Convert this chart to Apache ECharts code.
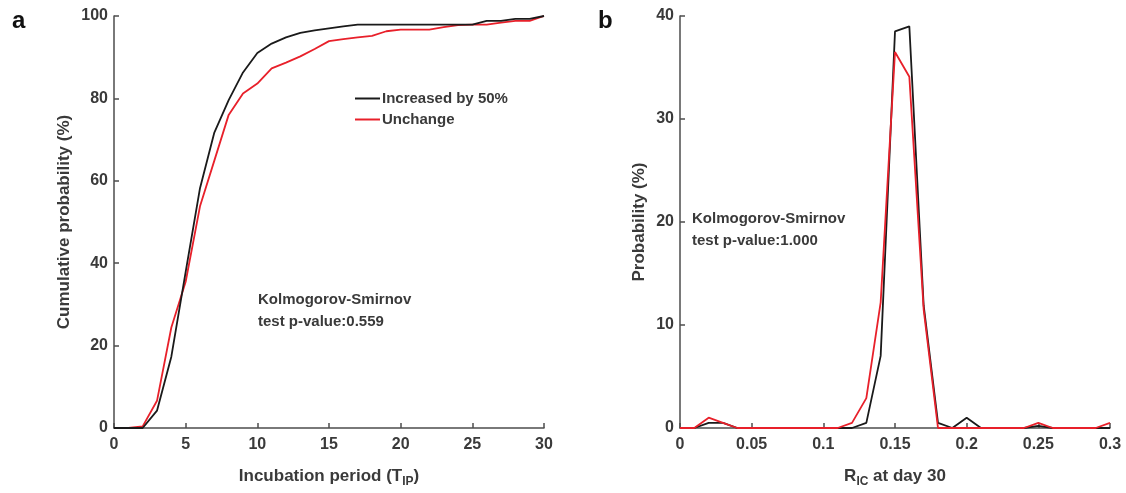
<!DOCTYPE html>
<html><head><meta charset="utf-8">
<script src="https://cdn.jsdelivr.net/npm/echarts@6/dist/echarts.min.js"></script>
<style>html,body{margin:0;padding:0;background:#fff}#c{width:1126px;height:493px}</style>
</head><body><div id="c"></div>
<script>
// Panel a: cumulative probability vs incubation period
var incubationX = [0,1,2,3,4,5,6,7,8,9,10,11,12,13,14,15,16,17,18,19,20,21,22,23,24,25,26,27,28,29,30];
var cumIncreased = [0,0,0,4.2,17.3,37.9,58.2,71.7,79.6,86.3,91,93.3,94.8,95.9,96.5,97,97.5,97.9,97.9,97.9,97.9,97.9,97.9,97.9,97.9,97.9,98.8,98.8,99.3,99.3,100];
var cumUnchange  = [0,0,0.4,6.6,24.4,35.5,53.8,64.9,76,81.2,83.6,87.3,88.7,90.2,92,93.9,94.4,94.8,95.2,96.3,96.7,96.7,96.7,97.3,97.8,97.9,97.9,98.4,98.8,98.8,100];
// Panel b: probability vs R_IC at day 30
var ricX = [0,0.01,0.02,0.03,0.04,0.05,0.06,0.07,0.08,0.09,0.1,0.11,0.12,0.13,0.14,0.15,0.16,0.17,0.18,0.19,0.2,0.21,0.22,0.23,0.24,0.25,0.26,0.27,0.28,0.29,0.3];
var probIncreased = [0,0,0.5,0.5,0,0,0,0,0,0,0,0,0,0.5,7.0,38.5,39.0,11.9,0.5,0,1.0,0,0,0,0,0.2,0,0,0,0,0];
var probUnchange  = [0,0,1.0,0.5,0,0,0,0,0,0,0,0,0.5,2.9,12.2,36.5,34.1,11.5,0,0,0,0,0,0,0,0.5,0,0,0,0,0.5];
var seriesNames = ['Increased by 50%','Unchange'];
var leftXTicks = {min:0,max:30,interval:5};
var leftYTicks = {min:0,max:100,interval:20};
var rightXTicks = {min:0,max:0.3,interval:0.05};
var rightYTicks = {min:0,max:40,interval:10};

function pairs(xs, ys){ return xs.map(function(x,i){ return [x, ys[i]]; }); }

var FONT = '"Liberation Sans", Arial, sans-serif';
var AX = '#4d4d4d';
var TXT = '#3a3a3a';
var BLACK = '#1a1a1a', RED = '#e8202a';

function axisCommon(extra){
  var o = {
    type:'value',
    axisLine:{show:true,lineStyle:{color:AX,width:1.5}},
    axisTick:{show:true,inside:true,length:5,lineStyle:{color:AX,width:1.5}},
    splitLine:{show:false},
    nameTextStyle:{color:TXT,fontFamily:FONT,fontWeight:'bold',fontSize:17,
      rich:{sub:{fontSize:12,fontWeight:'bold',color:TXT,fontFamily:FONT,padding:[12,0,0,0]}}}
  };
  for (var k in extra) o[k]=extra[k];
  return o;
}
function lbl(margin, fmt){
  var o = {color:TXT,fontFamily:FONT,fontWeight:'bold',fontSize:16,margin:margin};
  if (fmt) o.formatter = fmt;
  return o;
}

var chart = echarts.init(document.getElementById('c'), null, {renderer:'canvas'});
chart.setOption({
  animation:false,
  backgroundColor:'#fff',
  textStyle:{fontFamily:FONT},
  grid:[
    {left:114,right:582,top:16,bottom:57},
    {left:680,right:16,top:16,bottom:57}
  ],
  legend:{
    data:seriesNames, orient:'vertical', left:350, top:86, itemWidth:25, itemHeight:2, itemGap:6,
    icon:'rect',
    textStyle:{color:TXT,fontFamily:FONT,fontWeight:'bold',fontSize:15,padding:[0,0,0,-3]}
  },
  xAxis:[
    axisCommon({gridIndex:0,min:leftXTicks.min,max:leftXTicks.max,interval:leftXTicks.interval,
      name:'Incubation period (T{sub|IP})',nameLocation:'middle',nameGap:36,
      axisLabel:lbl(9)}),
    axisCommon({gridIndex:1,min:rightXTicks.min,max:rightXTicks.max,interval:rightXTicks.interval,
      name:'R{sub|IC} at day 30',nameLocation:'middle',nameGap:36,
      axisLabel:lbl(9,function(v){return String(Math.round(v*100)/100);})})
  ],
  yAxis:[
    axisCommon({gridIndex:0,min:leftYTicks.min,max:leftYTicks.max,interval:leftYTicks.interval,
      name:'Cumulative probability (%)',nameLocation:'middle',nameGap:41,
      axisLabel:lbl(6)}),
    axisCommon({gridIndex:1,min:rightYTicks.min,max:rightYTicks.max,interval:rightYTicks.interval,
      name:'Probability (%)',nameLocation:'middle',nameGap:32,
      axisLabel:lbl(6)})
  ],
  series:[
    {name:seriesNames[0],type:'line',xAxisIndex:0,yAxisIndex:0,data:pairs(incubationX,cumIncreased),
      showSymbol:false,lineStyle:{color:BLACK,width:1.8},itemStyle:{color:BLACK},z:3},
    {name:seriesNames[1],type:'line',xAxisIndex:0,yAxisIndex:0,data:pairs(incubationX,cumUnchange),
      showSymbol:false,lineStyle:{color:RED,width:1.8},itemStyle:{color:RED},z:2},
    {name:seriesNames[0],type:'line',xAxisIndex:1,yAxisIndex:1,data:pairs(ricX,probIncreased),
      showSymbol:false,lineStyle:{color:BLACK,width:1.8},itemStyle:{color:BLACK},z:3},
    {name:seriesNames[1],type:'line',xAxisIndex:1,yAxisIndex:1,data:pairs(ricX,probUnchange),
      showSymbol:false,lineStyle:{color:RED,width:1.8},itemStyle:{color:RED},z:4}
  ],
  graphic:[
    {type:'text',left:12,top:9,style:{text:'a',fill:'#111',font:'bold 24px '+FONT}},
    {type:'text',left:598,top:9,style:{text:'b',fill:'#111',font:'bold 24px '+FONT}},
    {type:'text',left:258,top:289,style:{text:'Kolmogorov-Smirnov\ntest p-value:0.559',fill:TXT,font:'bold 15px '+FONT,lineHeight:22}},
    {type:'text',left:692,top:208,style:{text:'Kolmogorov-Smirnov\ntest p-value:1.000',fill:TXT,font:'bold 15px '+FONT,lineHeight:22}}
  ]
});
</script></body></html>
